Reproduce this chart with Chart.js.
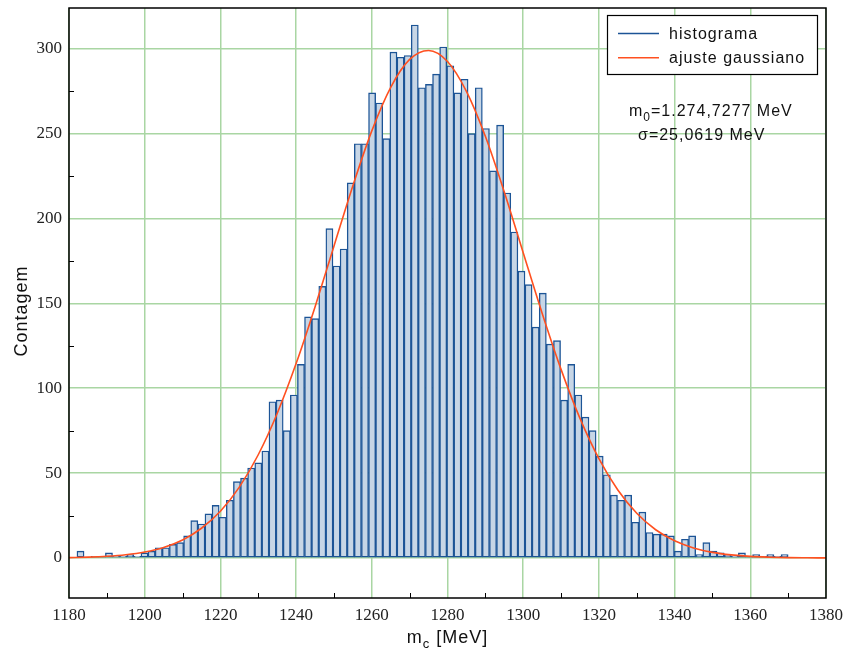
<!DOCTYPE html>
<html>
<head>
<meta charset="utf-8">
<script src="https://cdn.jsdelivr.net/npm/chart.js@4.4.1/dist/chart.umd.min.js"></script>
<style>
  html, body { margin: 0; padding: 0; background: #fff; }
  canvas { display: block; }
</style>
</head>
<body>
<canvas id="histChart" width="845" height="657"></canvas>
<script>
// histogram: 100 bins starting at binStart, width binWidth (MeV)
const binStart = 1182.1;
const binWidth = 1.879;
const counts = [
  4, 0, 1, 1, 3, 1, 1, 2, 1, 3,
  4, 6, 6, 8, 9, 13, 22, 20, 26, 31,
  24, 34, 45, 47, 53, 56, 63, 92, 93, 75,
  96, 114, 142, 141, 160, 194, 172, 182, 221, 244,
  244, 274, 268, 247, 298, 295, 296, 314, 277, 279,
  285, 301, 290, 274, 282, 250, 277, 253, 228, 255,
  215, 192, 169, 161, 136, 156, 126, 128, 93, 114,
  96, 83, 75, 60, 49, 37, 34, 37, 21, 27,
  15, 14, 14, 13, 4, 11, 13, 2, 9, 4,
  3, 2, 1, 3, 1, 2, 1, 2, 1, 2
];

// gaussian fit curve, every 5 MeV
const fitMass = [
  1180, 1185, 1190, 1195, 1200, 1205, 1210, 1215, 1220, 1225,
  1230, 1235, 1240, 1245, 1250, 1255, 1260, 1265, 1270, 1275,
  1280, 1285, 1290, 1295, 1300, 1305, 1310, 1315, 1320, 1325,
  1330, 1335, 1340, 1345, 1350, 1355, 1360, 1365, 1370, 1375, 1380
];
const fitCounts = [
  0.2, 0.5, 1.0, 1.9, 3.5, 6.2, 10.6, 17.5, 27.5, 41.7,
  60.8, 85.1, 114.5, 147.9, 183.7, 219.3, 251.6, 277.3, 293.7, 299.0,
  292.5, 274.9, 248.4, 215.6, 179.8, 144.2, 111.1, 82.2, 58.5, 40.0,
  26.3, 16.6, 10.1, 5.9, 3.3, 1.8, 0.9, 0.45, 0.2, 0.1, 0.04
];

const xTicks = [1180, 1200, 1220, 1240, 1260, 1280, 1300, 1320, 1340, 1360, 1380];
const yTicks = [0, 50, 100, 150, 200, 250, 300];
const minorX = [1190, 1210, 1230, 1250, 1270, 1290, 1310, 1330, 1350, 1370];
const minorY = [25, 75, 125, 175, 225, 275];

const legendItems = [
  { label: 'histograma', color: '#1c5496' },
  { label: 'ajuste gaussiano', color: '#ff5020' }
];

const gridGreen = '#a9d6a3';
const sans = '"Liberation Sans", Arial, sans-serif';
const serif = '"Liberation Serif", "Times New Roman", serif';

function drawSub(ctx, parts, x, y, size) {
  // parts: [text, isSub]
  let cx = x;
  for (const [t, sub] of parts) {
    ctx.font = (sub ? Math.round(size * 0.72) : size) + 'px ' + sans;
    ctx.fillText(t, cx, sub ? y + 5 : y);
    cx += ctx.measureText(t).width;
  }
  return cx - x;
}
function measureSub(ctx, parts, size) {
  let w = 0;
  for (const [t, sub] of parts) {
    ctx.font = (sub ? Math.round(size * 0.72) : size) + 'px ' + sans;
    w += ctx.measureText(t).width;
  }
  return w;
}

const decorations = {
  id: 'decorations',
  afterDraw(chart) {
    const { ctx, chartArea: a, scales: { x, y } } = chart;
    ctx.save();
    ctx.letterSpacing = '1px';

    // inward minor ticks
    ctx.strokeStyle = '#000';
    ctx.lineWidth = 1;
    ctx.beginPath();
    minorX.forEach(v => {
      const px = Math.round(x.getPixelForValue(v)) + 0.5;
      ctx.moveTo(px, a.bottom);
      ctx.lineTo(px, a.bottom - 5);
    });
    minorY.forEach(v => {
      const py = Math.round(y.getPixelForValue(v)) + 0.5;
      ctx.moveTo(a.left, py);
      ctx.lineTo(a.left + 5, py);
    });
    ctx.stroke();

    // frame
    ctx.lineWidth = 1.5;
    ctx.strokeRect(a.left, a.top, a.right - a.left, a.bottom - a.top);

    // legend box
    const lx = 607, ly = 15, lw = 210, lh = 59;
    ctx.fillStyle = '#fff';
    ctx.fillRect(lx, ly, lw, lh);
    ctx.lineWidth = 1.2;
    ctx.strokeStyle = '#000';
    ctx.strokeRect(lx + 0.5, ly + 0.5, lw, lh);
    legendItems.forEach((item, i) => {
      const rowY = 33.5 + i * 24.3;
      ctx.strokeStyle = item.color;
      ctx.lineWidth = 1.5;
      ctx.beginPath();
      ctx.moveTo(618, rowY);
      ctx.lineTo(659, rowY);
      ctx.stroke();
      ctx.fillStyle = '#111';
      ctx.font = '16px ' + sans;
      ctx.textBaseline = 'alphabetic';
      ctx.fillText(item.label, 669, rowY + 5.5);
    });

    // fit parameters
    ctx.fillStyle = '#111';
    drawSub(ctx, [['m', false], ['0', true], ['=1.274,7277 MeV', false]], 629, 116, 16);
    ctx.font = '16px ' + sans;
    ctx.fillText('\u03c3=25,0619 MeV', 638, 140);

    // x title with subscript
    const xParts = [['m', false], ['c', true], [' [MeV]', false]];
    const xw = measureSub(ctx, xParts, 18);
    drawSub(ctx, xParts, (a.left + a.right) / 2 - xw / 2, 643, 18);

    // y title
    ctx.translate(27, (a.top + a.bottom) / 2 + 8);
    ctx.rotate(-Math.PI / 2);
    ctx.font = '18px ' + sans;
    ctx.textAlign = 'center';
    ctx.fillText('Contagem', 0, 0);
    ctx.restore();
  }
};

const ctx = document.getElementById('histChart').getContext('2d');
const data = {
  datasets: [
    {
      type: 'line',
      label: 'ajuste gaussiano',
      data: fitMass.map((m, i) => ({ x: m, y: fitCounts[i] })),
      borderColor: '#ff5020',
      borderWidth: 1.6,
      pointRadius: 0,
      cubicInterpolationMode: 'monotone',
      fill: false,
      order: 0
    },
    {
      type: 'bar',
      label: 'histograma',
      data: counts.map((c, i) => ({ x: binStart + binWidth * (i + 0.5), y: c })),
      backgroundColor: '#c7d6e6',
      borderColor: '#1c5496',
      borderWidth: 1.4,
      borderSkipped: false,
      barPercentage: 1,
      categoryPercentage: 1,
      order: 1
    }
  ]
};
const config = {
  type: 'bar',
  data: data,
  options: {
    responsive: false,
    animation: false,
    layout: { padding: { left: 0, right: 19, top: 8, bottom: 0 } },
    plugins: {
      legend: { display: false },
      tooltip: { enabled: false }
    },
    scales: {
      x: {
        type: 'linear',
        min: 1180,
        max: 1380,
        offset: false,
        ticks: {
          color: '#222',
          padding: 7,
          maxRotation: 0,
          font: { family: serif, size: 17 },
          callback: v => String(v)
        },
        grid: { color: gridGreen, lineWidth: 1.5, drawTicks: false, offset: false },
        border: { display: false },
        afterBuildTicks: s => { s.ticks = xTicks.map(v => ({ value: v })); },
        afterFit: s => {
          s.height = 59;
          s.paddingLeft = 0;
          s.paddingRight = 0;
        }
      },
      y: {
        min: -23.6,
        max: 324,
        ticks: {
          color: '#222',
          padding: 7,
          font: { family: serif, size: 17 },
          callback: v => String(v)
        },
        grid: { color: gridGreen, lineWidth: 1.5, drawTicks: false },
        border: { display: false },
        afterBuildTicks: s => { s.ticks = yTicks.map(v => ({ value: v })); },
        afterFit: s => {
          s.width = 69;
          s.paddingTop = 0;
          s.paddingBottom = 0;
        }
      }
    }
  },
  plugins: [decorations]
};
const histChart = new Chart(ctx, config);
</script>
</body>
</html>
